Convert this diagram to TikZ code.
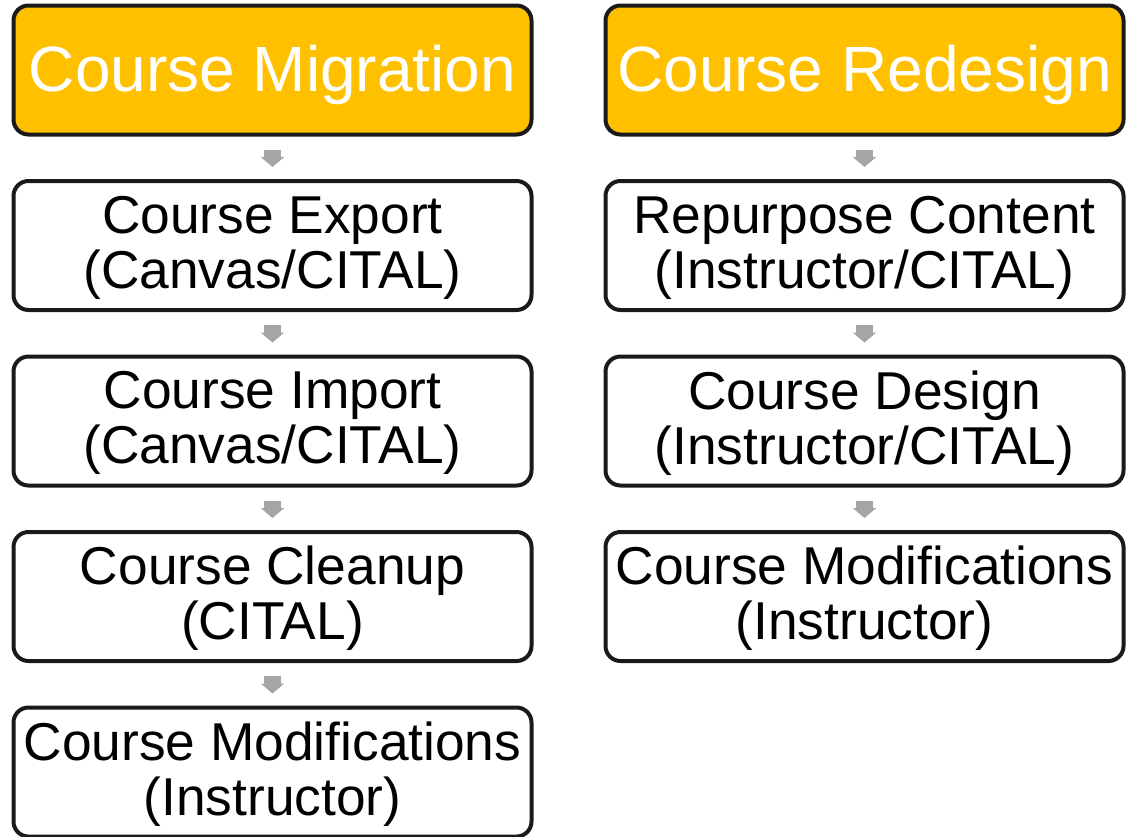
\documentclass[tikz,border=0pt]{standalone}
\usepackage{fontspec}
\setmainfont{Liberation Sans}
\usetikzlibrary{arrows.meta}
\definecolor{hdr}{HTML}{FFC000}
\definecolor{edge}{HTML}{1A1A1A}
\definecolor{arr}{HTML}{A5A5A5}
\tikzset{
  box/.style={draw=edge, line width=4pt, rounded corners=15pt, minimum width=518pt, minimum height=129pt, inner sep=0pt, fill=white},
  headbox/.style={box, fill=hdr},
  boxtext/.style={align=center, inner sep=0pt, text=black, font=\fontsize{53.3}{55}\selectfont, yshift=-2pt},
  headtext/.style={align=center, inner sep=0pt, text=white, font=\fontsize{64}{70}\selectfont, yshift=-5pt},
  flow/.style={draw=arr, line width=17pt, -{Triangle[width=23pt,length=10pt]}, shorten <=13pt, shorten >=12pt}
}
\begin{document}
\begin{tikzpicture}[x=1pt,y=-1pt]
\useasboundingbox (0,0) rectangle (1126,836);
\node[headbox] (m0) at (272.5,70) {};
\node[box] (m1) at (272.5,245.5) {};
\node[box] (m2) at (272.5,421) {};
\node[box] (m3) at (272.5,596.5) {};
\node[box] (m4) at (272.5,772) {};
\node[headbox] (r0) at (864.5,70) {};
\node[box] (r1) at (864.5,245.5) {};
\node[box] (r2) at (864.5,421) {};
\node[box] (r3) at (864.5,596.5) {};
\node[headtext] (m0t) at (m0) {Course Migration};
\node[boxtext] (m1t) at (m1) {Course Export\\(Canvas/CITAL)};
\node[boxtext] (m2t) at (m2) {Course Import\\(Canvas/CITAL)};
\node[boxtext] (m3t) at (m3) {Course Cleanup\\(CITAL)};
\node[boxtext] (m4t) at (m4) {Course Modifications\\(Instructor)};
\node[headtext] (r0t) at (r0) {Course Redesign};
\node[boxtext] (r1t) at (r1) {Repurpose Content\\(Instructor/CITAL)};
\node[boxtext] (r2t) at (r2) {Course Design\\(Instructor/CITAL)};
\node[boxtext] (r3t) at (r3) {Course Modifications\\(Instructor)};
\draw[flow] (m0.south) -- (m1.north);
\draw[flow] (m1.south) -- (m2.north);
\draw[flow] (m2.south) -- (m3.north);
\draw[flow] (m3.south) -- (m4.north);
\draw[flow] (r0.south) -- (r1.north);
\draw[flow] (r1.south) -- (r2.north);
\draw[flow] (r2.south) -- (r3.north);
\end{tikzpicture}
\end{document}
